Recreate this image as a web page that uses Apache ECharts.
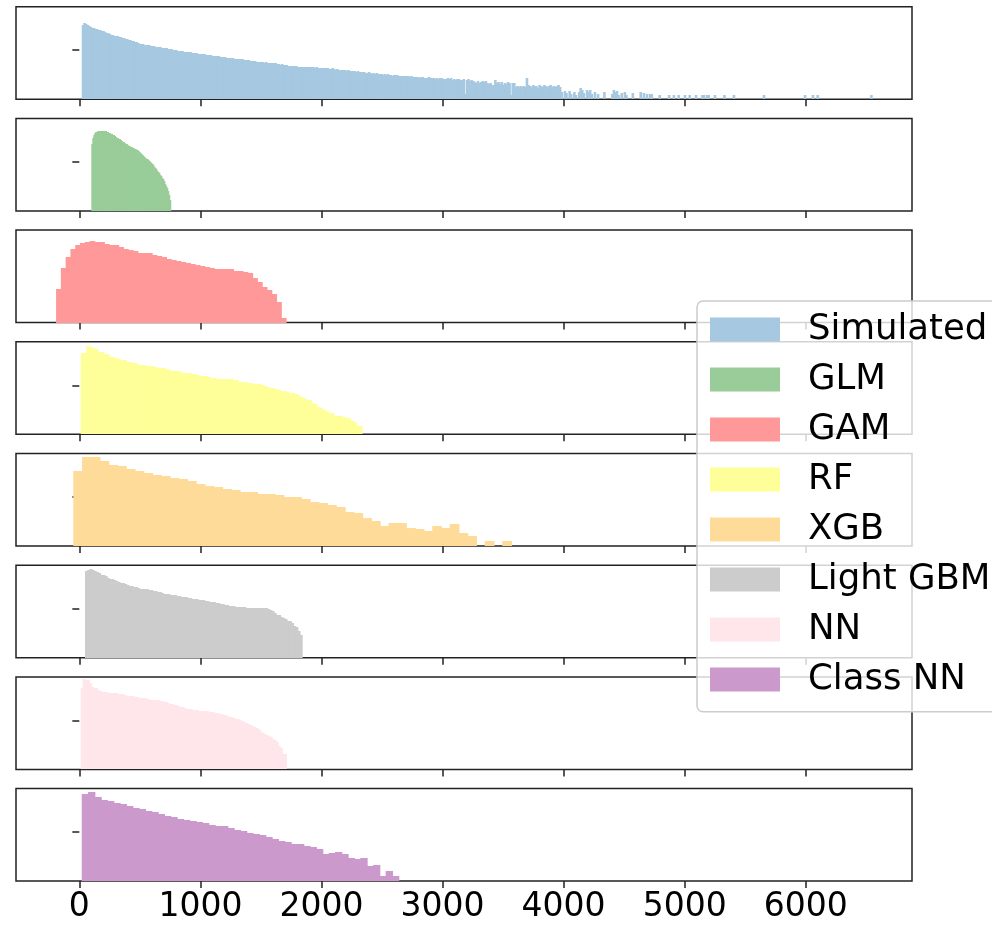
<!DOCTYPE html>
<html>
<head>
<meta charset="utf-8">
<script src="https://cdn.jsdelivr.net/npm/echarts@6/dist/echarts.min.js"></script>
<style>
  html, body { margin: 0; padding: 0; background: #ffffff; }
  #chart { width: 992px; height: 925px; }
</style>
</head>
<body>
<div id="chart"></div>
<script>
// Model names, one histogram panel each (top to bottom)
const modelNames = ['Simulated', 'GLM', 'GAM', 'RF', 'XGB', 'Light GBM', 'NN', 'Class NN'];
// Fill colours (alpha 0.4 blended on white)
const fillColors = ['#a6c8e1', '#99cc99', '#ff9999', '#ffff99', '#ffdb99', '#cccccc', '#ffe6ea', '#cc99cc'];

// Shared x range and tick values
const xRange = [-523, 6878];
const xTickValues = [0, 1000, 2000, 3000, 4000, 5000, 6000];
// Relative frequency scale (0-100) and the single y tick
const yRange = [0, 100];
const yTickValues = [53];

// Histogram bins: left edge of the first bin and bin width, per model
const binStart = [20, 99, -192, 11, -49.5, 47, 11, 20];
const binWidth = [13.05, 8.15, 39.5, 23.2, 72.3, 17.9, 16.96, 52.3];

// Bin heights, per model
const simulated = [
  80, 82, 81.5, 80.5, 79.5, 78.5, 77.5,
  77, 76.3, 75.8, 75, 74.4, 73.8, 73.2,
  72.5, 71.8, 71.2, 70.5, 69.8, 69.2,
  68.6, 68.2, 67.8, 67.4, 67, 66.5, 66, 65.5, 65,
  64.4, 63.8, 63.2, 62.5, 61.9, 61.3, 60.7, 60.2,
  59.8, 59.5, 59.1, 58.8, 58.5, 58.1, 57.8, 57.4, 57,
  56.8, 56.5, 56.3, 56, 55.8, 55.5, 55.3, 55,
  54.6, 54.2, 53.9, 53.5, 53.2, 52.9, 52.6, 52.3, 52,
  51.7, 51.5, 51.2, 51, 50.7, 50.5, 50.2, 50,
  49.8, 49.5, 49.3, 49, 48.8, 48.6, 48.4, 48.2, 48,
  47.7, 47.5, 47.2, 47, 46.7, 46.5, 46.2, 46,
  45.8, 45.5, 45.3, 45, 44.8, 44.6, 44.4, 44.2, 44,
  43.8, 43.6, 43.4, 43.2, 43, 42.8, 42.6, 42.4,
  42.1, 41.8, 41.5, 41.2, 40.9, 40.6, 40.3, 40,
  40.1, 39.8, 39.6, 39.9, 39.4, 39.3, 39.5, 39.1, 39,
  38.6, 38.3, 37.9, 37.5, 37.8, 37.1, 36.8, 36.5,
  36.4, 36.1, 36.3, 35.8, 35.6, 35.9, 35.3, 35.1, 35,
  34.8, 35.1, 34.7, 34.6, 34.9, 34.4, 34.6, 34.5,
  34.2, 34.4, 33.9, 33.6, 34.1, 33.8, 33.3, 33.7, 33.5,
  33.1, 32.8, 33.2, 32.4, 32.1, 32.6, 31.9, 31.7,
  31.5, 31.9, 31.2, 30.8, 31.4, 30.9, 30.5, 30.6,
  30.2, 29.8, 30.4, 29.5, 29.1, 29.6, 28.9, 28.7, 28.5,
  28.9, 28.1, 27.6, 28.3, 27.4, 27.8, 26.9, 27,
  27.3, 26.5, 26.8, 26.1, 26.9, 25.8, 26.4, 25.6, 26,
  25.7, 26.3, 25.2, 24.8, 25.6, 24.9, 25.3, 25,
  24.6, 24.1, 24.9, 23.8, 24.3, 23.5, 24.4, 23.2, 23.7,
  23.9, 22.9, 23.4, 22.5, 23.6, 22.4, 23.1, 22.7,
  22.2, 23, 21.8, 22.6, 22.9, 21.5, 22.3, 21.9, 22.5,
  21.7, 22.4, 21.2, 21.9, 20.8, 21.5, 22.1, 21,
  20.5, 21.6, 5.5, 20.7, 21.3, 19.8, 20.6, 20,
  18.5, 17.8, 19.2, 18, 18.8, 19.5, 18.9, 19.2,
  17.5, 16.9, 17.6, 15.5, 15.8, 21, 17.2, 18.6,
  16.4, 18.9, 15.7, 17.8, 16.2, 19, 17, 4.7,
  17.3, 17.8, 13.7, 14.2, 13.5, 14.6, 13.1, 14, 13.6, 22.7,
  15.5, 14.5, 12.8, 15, 13.9, 14.8, 12.6, 15.3, 14.2, 13, 15.6, 14.6, 12.9, 14, 15.2, 13.3, 14.8, 12.7, 13.8, 14.9, 13.4,
  8.3, 0, 9, 7, 0, 9, 6, 0, 7.6, 5,
  0, 8, 11.9, 10, 7, 0, 10.1, 8, 10, 6,
  0, 7.6, 0, 6, 0, 0, 0, 8.3, 0, 0,
  0, 0, 6, 10.1, 8, 9, 5, 0, 6.5, 0,
  7.6, 5, 0, 0, 0, 6.5, 0, 0, 0, 0,
  8.3, 0, 7, 0, 5.4, 0, 5.4, 5.4, 0, 0,
  0, 0, 4.7, 0, 0, 0, 0, 0, 4.7, 0,
  0, 4.7, 0, 0, 4.7, 0, 0, 0, 4.7, 0,
  0, 4.7, 0, 0, 0, 4.7, 0, 0, 0, 4.7,
  4.7, 0, 4.7, 4.7, 0, 0, 0, 4.7, 0, 0,
  0, 0, 0, 4.7, 0, 0, 0, 0, 0, 4.7,
  0, 0, 0, 0, 0, 0, 0, 0, 0, 0,
  0, 0, 0, 0, 0, 0, 0, 0, 4.7, 0,
  0, 0, 0, 0, 0, 0, 0, 0, 0, 0,
  0, 0, 0, 0, 0, 0, 0, 0, 0, 0,
  0, 0, 0, 0, 4.7, 0, 0, 0, 0, 4.7,
  0, 0, 4.7, 0, 0, 0, 0, 0, 0, 0,
  0, 0, 0, 0, 0, 0, 0, 0, 0, 0,
  0, 0, 0, 0, 0, 0, 0, 0, 0, 0,
  0, 0, 0, 0, 0, 0, 4.7
];

const glm = [
  72, 79, 82.5, 84, 85, 85.5, 86, 86.3, 86.5, 86.5,
  86.6, 86.5, 86.4, 86.2, 85.9, 85.5, 85.1, 84.6, 84.1, 83.6,
  83, 82.4, 81.7, 81, 80.2, 79.3, 78.6, 77.8, 77.2, 76.4,
  75.6, 74.8, 74, 73.3, 72.6, 72, 71.3, 70.7, 70.1, 69.6,
  69, 68.4, 67.9, 67.2, 66.6, 66, 65.3, 64.4, 63.5, 62.4,
  61.5, 60.6, 59.8, 58.8, 57.7, 56.6, 55.6, 54.9, 54.2, 53.3,
  52.2, 50.8, 49.4, 48, 46.5, 45, 43.5, 42, 40.5, 39,
  37.5, 35.8, 34, 32, 29.5, 27, 24.5, 21, 17.5, 12
];

const gam = [
  36.4, 59.3, 71.3, 80, 84.4, 86.5, 87.3, 88.4, 87.3, 86.9,
  85.5, 83.6, 83.6, 81.8, 80, 78.2, 77.1, 75.3, 75.3, 75.3,
  73.5, 71.6, 70.9, 68.4, 68, 66.5, 65.5, 64, 62.9, 62.5,
  61.1, 60, 59.3, 58.2, 57.8, 57.5, 57.5, 56, 55.3, 54.2,
  53.5, 48.7, 43.6, 38.2, 34.9, 31.3, 22.5, 5.5
];

const rf = [
  87.7, 88, 95, 94.5, 93, 92.5, 89.5, 89, 87.3, 86.5,
  84, 83.3, 82.2, 81.5, 80.4, 79.8, 78.6, 78, 77.5, 76.6,
  75.4, 75, 74.8, 74.3, 73.9, 73.5, 73, 72, 71.6, 71.2,
  70.3, 70, 68.8, 68.5, 68.2, 67.5, 66.7, 66.5, 66.2, 65.5,
  64.9, 64.5, 63.5, 63, 62.5, 61.5, 61.2, 60.8, 60.2, 60.1,
  60.1, 60, 59.8, 59.5, 58.5, 58.2, 57, 56.6, 56.4, 56,
  55, 54.7, 54.5, 54, 53, 52.7, 51.5, 50.4, 50, 48.8,
  48.2, 47, 46.5, 45.2, 44.9, 44.2, 43.1, 42.5, 40, 39.3,
  37.3, 36.8, 33.5, 32.5, 29, 28, 26.2, 25.5, 23.2, 22.5,
  19.8, 19.6, 19.4, 19, 17.8, 17.2, 14.1, 13.5, 8.7, 8.5
];

const xgb = [
  80.7, 96.7, 96.7, 91.6, 88, 86.2, 82.9, 81.1, 79.3, 77.1,
  75.6, 73.8, 72, 70.2, 66.9, 65.1, 63.3, 61.8, 60.4, 58.2,
  58.2, 56.7, 56.7, 54.9, 53.1, 53.1, 51.3, 48, 46.2, 44.7,
  42.5, 37.1, 35.3, 30.2, 26.5, 21.8, 24.7, 24.7, 19.6, 18.2,
  16, 21.8, 19.6, 23.6, 14.5, 10.9, 0, 5.5, 0, 5.5
];

const lightGbm = [
  93.7, 94.5, 95.6, 95, 94, 92.5, 91.5, 89.5, 88.9, 88,
  86.5, 85.5, 85, 83.6, 83, 82, 81, 80.5, 80, 79,
  78, 77.5, 76.8, 76.2, 75.8, 74.5, 74.2, 74, 74.5, 73.5,
  73.2, 72.5, 71.8, 71.5, 71, 70, 69.2, 69, 68.8, 68.3,
  67.9, 67.6, 67.2, 66.5, 66, 65.7, 65.3, 64.9, 64.5, 64,
  63.5, 63.2, 62.8, 62.4, 62, 61.5, 60.8, 60.5, 60.2, 59.8,
  59.2, 58.7, 58.3, 58, 57.5, 56.8, 56.1, 55.8, 55.5, 55,
  54.6, 54.5, 54.4, 54.3, 54.2, 54.2, 54.2, 54.1, 54, 54,
  54, 53.9, 53.9, 53.5, 53, 51.3, 50, 48.7, 46.5, 45.8,
  43.9, 43, 42.1, 40.2, 39.5, 37.6, 34, 32.8, 29.2, 24.4
];

const nn = [
  87.5, 97.4, 97, 96.2, 93.6, 88.7, 88, 87.5, 86, 84.8,
  84.2, 83.8, 83.2, 83, 83, 82.9, 82.6, 82.3, 82, 81.4,
  81.1, 80.5, 79.5, 79.2, 79.2, 79, 78.8, 78.3, 77.4, 77.2,
  77, 76.8, 75.8, 75.5, 75.3, 75, 74.7, 74.5, 74.2, 73.6,
  73.2, 72.6, 71.7, 71.2, 70.8, 69.8, 69.4, 68.6, 67.5, 67,
  66.2, 65.6, 64.9, 64.8, 64.7, 64.5, 64, 63.6, 63.4, 63.2,
  63, 62.6, 62.3, 62.1, 61.8, 61.3, 60.8, 60.4, 59.8, 59,
  58.5, 57.8, 57, 56.6, 55.8, 55, 54.7, 53.5, 52.5, 51.5,
  50.2, 49.1, 47.8, 46.8, 46, 44.5, 43.4, 41.5, 39.6, 38.5,
  37.2, 36.6, 34.5, 33.2, 31.5, 29.4, 25, 22.6, 17, 17
];

const classNn = [
  94.5, 96.4, 90.9, 88, 86.2, 84.7, 82.9, 81.1, 79.3, 77.5,
  75.6, 74.2, 72.7, 70.9, 69.1, 67.3, 66.2, 64.7, 64.4, 62.5,
  60.7, 59.6, 59.3, 57.5, 55.6, 53.8, 51.6, 50.9, 50.2, 48,
  45.5, 43.6, 41.8, 40, 40, 38.2, 36.4, 34.5, 29.8, 30.2,
  31.6, 29.1, 25.5, 23.6, 24.7, 16, 17.5, 5.5, 10.9, 5.5
];

const heights = [simulated, glm, gam, rf, xgb, lightGbm, nn, classNn];

// Panel layout
const PANEL_LEFT = 16, PANEL_RIGHT = 80, PANEL_TOP = 6.7, PANEL_STEP = 111.7, PANEL_H = 92.5;
const frameColor = '#222222';
const FONT = 'DejaVu Sans';

const grids = [], xAxes = [], yAxes = [], series = [];

// One rectangle per bin; rows snap to whole pixels and a 1px overlap
// keeps neighbouring bins seamless
function renderBin(params, api) {
  const base = api.coord([api.value(0), 0]);
  const top = api.coord([api.value(1), api.value(2)]);
  const y0 = Math.round(base[1]);
  const y1 = Math.round(top[1]);
  const h = y0 - y1;
  if (h <= 0) return null;
  return {
    type: 'rect',
    shape: { x: base[0], y: y1, width: top[0] - base[0] + 1, height: h },
    style: { fill: api.visual('color') }
  };
}

modelNames.forEach((name, k) => {
  const last = k === modelNames.length - 1;
  grids.push({
    left: PANEL_LEFT, right: PANEL_RIGHT,
    top: PANEL_TOP + k * PANEL_STEP, height: PANEL_H,
    show: true, borderColor: frameColor, borderWidth: 1.5, backgroundColor: 'transparent'
  });
  xAxes.push({
    type: 'value', gridIndex: k, min: xRange[0], max: xRange[1],
    axisLine: { show: false },
    splitLine: { show: false },
    axisTick: {
      show: true, inside: false, length: 7, customValues: xTickValues,
      lineStyle: { color: frameColor, width: 1.5 }
    },
    axisLabel: {
      show: last, customValues: xTickValues, margin: 10,
      formatter: v => String(v),
      fontFamily: FONT, fontSize: 33, color: '#000000'
    }
  });
  yAxes.push({
    type: 'value', gridIndex: k, min: yRange[0], max: yRange[1],
    axisLine: { show: false },
    splitLine: { show: false },
    axisTick: {
      show: true, inside: false, length: 7, customValues: yTickValues,
      lineStyle: { color: frameColor, width: 1.5 }
    },
    axisLabel: { show: false }
  });
  const start = binStart[k], w = binWidth[k];
  series.push({
    name: name,
    type: 'custom',
    xAxisIndex: k, yAxisIndex: k,
    itemStyle: { color: fillColors[k] },
    renderItem: renderBin,
    encode: { x: [0, 1], y: 2 },
    data: heights[k].map((h, i) => [start + i * w, start + (i + 1) * w, h])
  });
});

const chart = echarts.init(document.getElementById('chart'), null, { renderer: 'canvas' });
chart.setOption({
  animation: false,
  backgroundColor: '#ffffff',
  grid: grids,
  xAxis: xAxes,
  yAxis: yAxes,
  legend: {
    data: modelNames,
    orient: 'vertical',
    left: 697, top: 301,
    icon: 'rect',
    itemWidth: 70, itemHeight: 24, itemGap: 14,
    padding: [10.5, 40, 14.2, 13],
    selectedMode: false,
    backgroundColor: 'rgba(255,255,255,0.8)',
    borderColor: '#cccccc', borderWidth: 1.5, borderRadius: 6,
    textStyle: {
      fontFamily: FONT, fontSize: 35.5, color: '#000000',
      padding: [0, 0, 0, 23]
    }
  },
  series: series
});
</script>
</body>
</html>
